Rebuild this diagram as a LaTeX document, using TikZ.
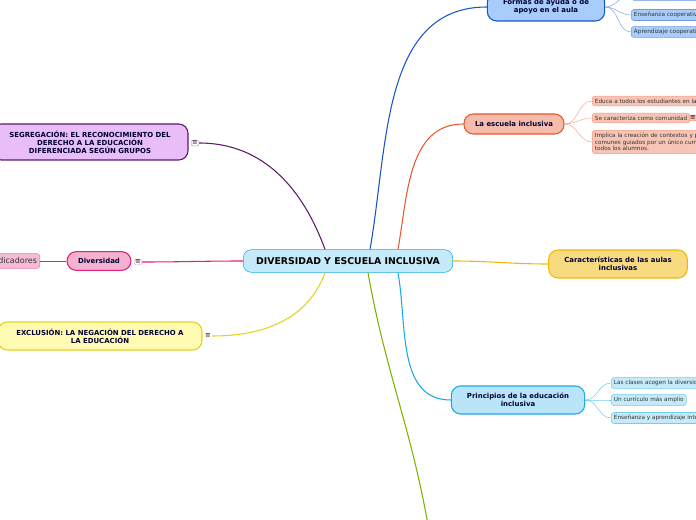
\documentclass[tikz,border=0pt]{standalone}
\usepackage{fontspec}
\setmainfont{DejaVu Sans}
\usetikzlibrary{positioning}
\definecolor{cblue}{HTML}{1756C8}
\definecolor{corange}{HTML}{E8582C}
\definecolor{cyellow}{HTML}{F2B800}
\definecolor{csky}{HTML}{19A9E6}
\definecolor{cgreen}{HTML}{7DB300}
\definecolor{cpurple}{HTML}{5E1A6B}
\definecolor{cpink}{HTML}{E0207A}
\definecolor{clemon}{HTML}{E8D020}
\definecolor{clavender}{HTML}{E9BDF7}
\definecolor{cpale}{HTML}{A9CDFB}
\tikzstyle{mainnode} = [rectangle, rounded corners=6pt, draw=csky, fill=csky!25, minimum width=157pt, minimum height=17pt, font=\fontsize{7}{8}\selectfont\bfseries]
\tikzstyle{topicnode} = [rectangle, rounded corners=7pt, thick, align=center, font=\fontsize{5.2}{6}\selectfont\bfseries, text=black!80!blue]
\tikzstyle{subnode} = [rectangle, rounded corners=2pt, align=left, font=\fontsize{4.3}{5}\selectfont, inner sep=2pt, anchor=west, text=black!80]
\tikzstyle{iconbox} = [rectangle, rounded corners=1.5pt, inner sep=0.8pt, font=\fontsize{5}{5}\selectfont]
\tikzstyle{link} = [thick]
\tikzstyle{sublink} = [thin]
\begin{document}
\begin{tikzpicture}[x=0.75pt, y=-0.75pt]
  \useasboundingbox (0,0) rectangle (696,520);

  % centre
  \node (center) [mainnode] at (348,261) {DIVERSIDAD Y ESCUELA INCLUSIVA};

  % right side topics
  \node (formas) [topicnode, draw=cblue, fill=cpale, minimum width=88pt, minimum height=21pt] at (546,7) {Formas de ayuda o de\\apoyo en el aula};
  \node (escuela) [topicnode, draw=corange, fill=corange!40, minimum width=75pt, minimum height=15pt] at (514,124) {La escuela inclusiva};
  \node (aulas) [topicnode, draw=cyellow, fill=cyellow!50, minimum width=104pt, minimum height=21pt] at (618,264) {Características de las aulas\\inclusivas};
  \node (principios) [topicnode, draw=csky, fill=csky!30, minimum width=100pt, minimum height=21pt] at (518,400) {Principios de la educación\\inclusiva};

  % left side topics
  \node (segregacion) [topicnode, draw=cpurple, fill=clavender, minimum width=147pt, minimum height=27pt] at (90,142) {SEGREGACIÓN: EL RECONOCIMIENTO DEL\\DERECHO A LA EDUCACIÓN\\DIFERENCIADA SEGÚN GRUPOS};
  \node (diversidad) [topicnode, draw=cpink, fill=cpink!35, minimum width=48pt, minimum height=14pt] at (99,261) {Diversidad};
  \node (exclusion) [topicnode, draw=clemon, fill=yellow!30, minimum width=153pt, minimum height=21pt] at (100,336) {EXCLUSIÓN: LA NEGACIÓN DEL DERECHO A\\LA EDUCACIÓN};
  \node (indicadores) [subnode, draw=cpink!60, fill=cpink!30, anchor=east, font=\fontsize{6}{7}\selectfont, minimum height=11pt] at (40,261) {Indicadores};

  % icons
  \node (iseg) [iconbox, draw=cpurple!40, fill=white] at (195,143) {≡};
  \node (idiv) [iconbox, draw=cpink!40, fill=white] at (138,262) {≡};
  \node (iexc) [iconbox, fill=white] at (208,336) {≡};

  % sub nodes of Formas
  \node (f0) [subnode, draw=cblue!60, fill=cpale, minimum width=80pt, minimum height=8pt] at (631,-5) {};
  \node (f1) [subnode, draw=cblue!60, fill=cpale] at (631,15) {Enseñanza cooperativa};
  \node (f2) [subnode, draw=cblue!60, fill=cpale] at (631,32) {Aprendizaje cooperativo};

  % sub nodes of escuela
  \node (e1) [subnode, draw=corange!60, fill=corange!35] at (592,101) {Educa a todos los estudiantes en la escuela};
  \node (e2) [subnode, draw=corange!60, fill=corange!35] at (592,118) {Se caracteriza como comunidad};
  \node (ie2) [iconbox, draw=corange!60, fill=corange!35] at (693,118) {≡};
  \node (e3) [subnode, draw=corange!60, fill=corange!35] at (592,142) {Implica la creación de contextos y procesos\\comunes guiados por un único currículo para\\todos los alumnos.};

  % sub nodes of principios
  \node (p1) [subnode, draw=csky!60, fill=csky!25] at (611,383) {Las clases acogen la diversidad};
  \node (p2) [subnode, draw=csky!60, fill=csky!25] at (611,400) {Un currículo más amplio};
  \node (p3) [subnode, draw=csky!60, fill=csky!25] at (611,418) {Enseñanza y aprendizaje interactivo};

  % main links
  \draw[link, cblue] (center.north) ++(22,0) coordinate (cf) (cf) to[out=80, in=180] (formas.west);
  \draw[link, corange] (center.north) ++(50,0) coordinate (ce) (ce) to[out=80, in=180] (escuela.west);
  \draw[link, cyellow] (center.east) to[out=0, in=180] (aulas.west);
  \draw[link, csky] (center.south) ++(50,0) coordinate (cp) (cp) to[out=-80, in=180] (principios.west);
  \draw[link, cgreen] (center.south) ++(20,0) coordinate (cg) (cg) to[out=-80, in=100] (428,525) coordinate (green);
  \draw[link, cpurple] (center.north) ++(-23,0) coordinate (cs) (cs) to[out=110, in=0] (iseg.east);
  \draw[link, cpink] (center.west) to[out=180, in=0] (idiv.east);
  \draw[link, clemon] (center.south) ++(-23,0) coordinate (cx) (cx) to[out=-110, in=0] (iexc.east);
  \draw[sublink, cpink] (diversidad.west) -- (indicadores.east);

  % sub links
  \foreach \s in {f0,f1,f2} \draw[sublink, cblue!50] (formas.east) to[out=0, in=180] (\s.west);
  \foreach \s in {e1,e2,e3} \draw[sublink, corange!50] (escuela.east) to[out=0, in=180] (\s.west);
  \foreach \s in {p1,p2,p3} \draw[sublink, csky!60] (principios.east) to[out=0, in=180] (\s.west);
\end{tikzpicture}
\end{document}
